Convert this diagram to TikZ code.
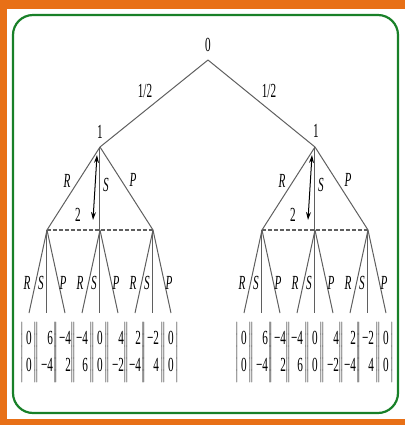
\documentclass[tikz,border=0pt]{standalone}
\usepackage{fontspec}
\setmainfont{Liberation Serif}
\usetikzlibrary{arrows.meta}
\definecolor{FrameOrange}{RGB}{232,112,22}
\definecolor{FrameGreen}{RGB}{24,128,40}
\definecolor{TreeGray}{RGB}{95,95,95}
\newcommand{\cond}[1]{\scalebox{0.56}[1]{#1}}
\newcommand{\payoff}[2]{\cond{$\nulldelimiterspace=0pt\left|\renewcommand{\arraystretch}{1.12}\begin{tabular}{@{\,}r@{\,}}#1\\#2\end{tabular}\right|$}}

\begin{document}
\begin{tikzpicture}[
  x=0.5pt,y=-0.5pt,
  branch/.style={draw=TreeGray,line width=0.5pt},
  info/.style={draw=TreeGray,line width=1pt,dash pattern=on 2pt off 1pt},
  swap/.style={{Stealth[length=4pt,width=2.5pt]}-{Stealth[length=4pt,width=2.5pt]},draw=black,line width=0.5pt},
  lbl/.style={inner sep=0pt,font=\fontsize{10}{12}\selectfont},
  act/.style={lbl,font=\fontsize{10}{12}\selectfont\itshape}
]
\useasboundingbox (0,0) rectangle (405,425);
% frame
\fill[FrameOrange] (0,0) rectangle (405,9);
\fill[FrameOrange] (0,0) rectangle (7,425);
\fill[FrameOrange] (0,419) rectangle (405,425);
\draw[FrameGreen,line width=1.1pt,rounded corners=10pt] (13,15) rectangle (398,413);

% chance move
\coordinate (root) at (208,60);
\node[lbl] (root-l) at (208,45) {\cond{0}};
\coordinate (a) at (100,147);
\coordinate (b) at (315,147);
\node[lbl] (a-l) at (100,132) {\cond{1}};
\node[lbl] (b-l) at (316,131) {\cond{1}};
\draw[branch] (root) -- (a);
\draw[branch] (root) -- (b);
\node[lbl] (half-a) at (145,91) {\cond{1/2}};
\node[lbl] (half-b) at (269,91) {\cond{1/2}};

\foreach \t/\x in {a/100,b/315}{
  % player 1 and the information set of player 2
  \foreach \m/\dx in {R/-53,S/0,P/53}{
    \coordinate (\t\m) at (\x+\dx,230);
    \draw[branch] (\t) -- (\t\m);
    \foreach \n/\ex in {R/-18,S/0,P/18}{
      \coordinate (\t\m\n) at (\x+\dx+\ex,313);
      \draw[branch] (\t\m) -- (\t\m\n);
    }
    \node[act] (\t\m-R) at (\x+\dx-20,283) {\cond{R}};
    \node[act] (\t\m-S) at (\x+\dx-6,283) {\cond{S}};
    \node[act] (\t\m-P) at (\x+\dx+16,283) {\cond{P}};
  }
  \draw[info] (\t R) -- (\t P);
  \node[act] (\t-R) at (\x-33,181) {\cond{R}};
  \node[act] (\t-S) at (\x+6,185) {\cond{S}};
  \node[act] (\t-P) at (\x+33,180) {\cond{P}};
  \node[lbl] (\t-2) at (\x-22,215) {\cond{2}};
  \coordinate (\t-up) at (\x-3,155);
  \coordinate (\t-dn) at (\x-7,220);
  \draw[swap] (\t-up) -- (\t-dn);
  % payoffs
  \foreach \m/\n/\u/\v in {R/R/0/0,R/S/6/−4,R/P/−4/2,
                           S/R/−4/6,S/S/0/0,S/P/4/−2,
                           P/R/2/−4,P/S/−2/4,P/P/0/0}{
    \node[lbl,below=4.5pt] (\t\m\n-pay) at (\t\m\n) {\payoff{\u}{\v}};
  }
}
\end{tikzpicture}
\end{document}
